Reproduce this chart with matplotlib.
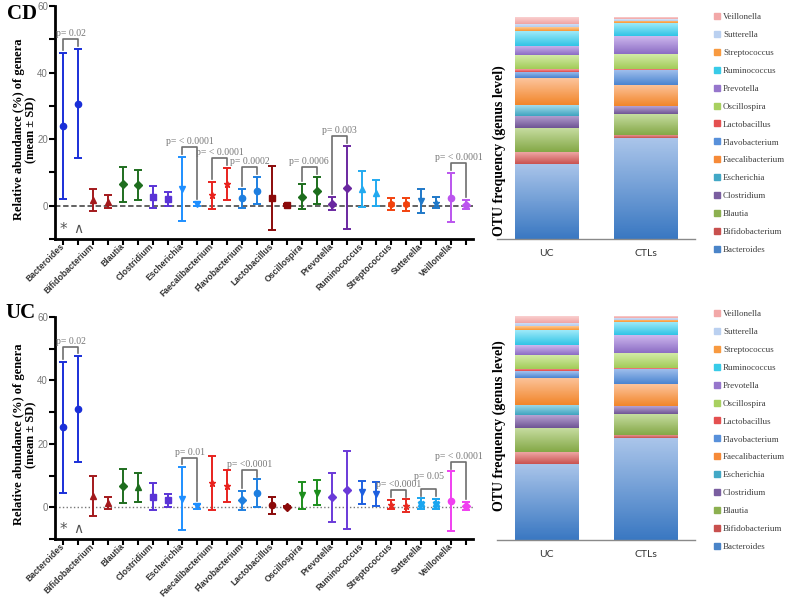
import numpy as np
import matplotlib.pyplot as plt
from matplotlib.lines import Line2D
from matplotlib.colors import LinearSegmentedColormap

# --- data ---
genera = ['Bacteroides', 'Bifidobacterium', 'Blautia', 'Clostridium', 'Escherichia',
          'Faecalibacterium', 'Flavobacterium', 'Lactobacillus', 'Oscillospira',
          'Prevotella', 'Ruminococcus', 'Streptococcus', 'Sutterella', 'Veillonella']

# CD panel (patients vs controls), mean and SD in %
cd_mean = [24.0, 1.7, 6.4, 2.6, 5.0, 3.1, 2.2, 2.4, 2.75, 0.55, 4.9, 0.5, 1.4, 2.45]
cd_sd = [22.0, 3.3, 5.2, 3.3, 9.7, 4.0, 2.9, 9.6, 3.75, 1.95, 5.4, 1.9, 3.6, 7.35]
cd_ctl_mean = [30.7, 1.2, 6.1, 2.1, 0.4, 6.5, 4.5, 0.1, 4.5, 5.45, 3.9, 0.4, 0.95, 0.35]
cd_ctl_sd = [16.5, 1.9, 4.5, 2.1, 0.6, 4.9, 4.1, 0.3, 4.0, 12.35, 3.9, 1.9, 1.65, 1.35]

# UC panel
uc_mean = [25.2, 3.6, 6.85, 3.35, 2.7, 7.8, 2.2, 0.65, 3.75, 3.1, 4.7, 0.85, 1.1, 1.95]
uc_sd = [20.6, 6.2, 5.35, 4.25, 9.9, 8.5, 3.0, 2.75, 4.15, 7.8, 3.6, 1.45, 1.7, 9.35]
uc_ctl_mean = [31.0, 1.3, 6.25, 2.15, 0.3, 6.7, 4.5, 0.2, 4.55, 5.6, 4.2, 0.55, 1.05, 0.45]
uc_ctl_sd = [16.6, 1.9, 4.55, 2.15, 0.7, 4.9, 4.3, 0.2, 3.95, 12.3, 3.8, 1.95, 1.55, 1.25]

# significant comparisons (genus index -> label)
cd_pvals = {0: 'p= 0.02', 4: 'p= < 0.0001', 5: 'p= < 0.0001', 6: 'p= 0.0002',
            8: 'p= 0.0006', 9: 'p= 0.003', 13: 'p= < 0.0001'}
uc_pvals = {0: 'p= 0.02', 4: 'p= 0.01', 6: 'p= <0.0001', 11: 'p= <0.0001',
            12: 'p= 0.05', 13: 'p= < 0.0001'}

# OTU frequency (%) at genus level, stacked bars
groups = ['UC', 'CTLs']
otu_uc = [34.0, 5.2, 10.6, 5.8, 4.6, 12.1, 3.0, 1.1, 6.4, 4.2, 6.9, 1.5, 1.6, 3.0]
otu_ctl = [45.4, 1.5, 9.3, 3.5, 0.3, 9.5, 6.8, 0.3, 6.8, 8.0, 6.0, 1.0, 0.9, 0.7]

# --- styles ---
SERIF = 'Liberation Serif'
SANS = 'Liberation Sans'

top_colors = ['#1a2fd8', '#a3191c', '#1f6e1f', '#5a34d6', '#1e8fff', '#e8221e', '#1e7fe0',
              '#8b0a0a', '#1d6e1d', '#6a28a0', '#22aaf0', '#f2420e', '#1f78c8', '#bb55ee']
bot_colors = ['#1a2fd8', '#a3191c', '#1f6e1f', '#5a34d6', '#1e8fff', '#e8221e', '#1e7fe0',
              '#8b0a0a', '#1d8e1d', '#6a3ad8', '#1d5fe0', '#e82a20', '#1aa6f0', '#f040f0']
top_markers = [('o', 'o'), ('^', '^'), ('D', 'D'), ('s', 's'), ('v', 'v'), ('*', '*'), ('o', 'o'),
               ('s', 's'), ('D', 'D'), ('D', 'D'), ('^', '^'), ('h', 'h'), ('v', '*'), ('o', 'D')]
bot_markers = [('o', 'o'), ('^', '^'), ('D', '^'), ('s', 's'), ('v', 'v'), ('*', '*'), ('D', 'o'),
               ('o', 'D'), ('v', 'v'), ('D', 'D'), ('v', 'v'), ('*', '*'), ('X', 'X'), ('o', 'D')]

stack_top = ['#aac5ea', '#eea6a4', '#c6dca0', '#b7a3d3', '#a6dcea', '#fcc49c', '#a4c2ee',
             '#f4a0a0', '#d6ecac', '#cdb8ee', '#a6ecfa', '#ffc890', '#dae6f8', '#fad0d0']
stack_bot = ['#3a78c2', '#c9524f', '#84a846', '#6f5494', '#3ea4c0', '#f2862a', '#4a84d0',
             '#e04848', '#a2cc58', '#8c6cc4', '#30c4e6', '#f89838', '#b4cbee', '#f0a4a4']
legend_colors = ['#4a84c8', '#c8504e', '#8cb050', '#7a5ea0', '#42a8c6', '#f68a38', '#5890da',
                 '#e45050', '#a8d060', '#9676cc', '#38cbe8', '#f89a40', '#bad0f0', '#f2a8a8']


def dot_panel(ax, mean1, sd1, mean2, sd2, colors, markers, pvals, zero_style, lift=None):
    lift = lift or {}
    n = len(genera)
    for i in range(n):
        for k, (m, s) in enumerate([(mean1[i], sd1[i]), (mean2[i], sd2[i])]):
            ax.errorbar(2 * i + k, m, yerr=s, fmt=markers[i][k], color=colors[i],
                        ms=4.5, capsize=3, elinewidth=1.4, capthick=1.4, zorder=3)
    if zero_style == 'dashed':
        ax.axhline(0, color='#555555', ls=(0, (3, 1.5)), lw=1.3, zorder=1)
    else:
        ax.axhline(0, color='#777777', ls=':', lw=1.0, zorder=1)

    for i, label in pvals.items():
        t1 = mean1[i] + sd1[i]
        t2 = mean2[i] + sd2[i]
        yb = max(t1, t2) + 3.0
        x1, x2 = 2 * i, 2 * i + 1
        ax.plot([x1, x1, x2, x2], [t1 + 0.9, yb, yb, t2 + 0.9], color='#6e6e6e', lw=1.2, zorder=2)
        ax.text((x1 + x2) / 2, yb + 0.3 + lift.get(i, 0), label, ha='center', va='bottom',
                fontsize=7, color='#777777', family=SERIF)

    ax.text(0, -7, '*', ha='center', va='center', fontsize=11, color='#555555')
    ax.text(1, -7, '\u2227', ha='center', va='center', fontsize=10, color='#555555')

    ax.set_xlim(-0.54, 2 * n - 1 + 0.47)
    ax.set_ylim(-10, 60)
    ax.set_yticks([0, 20, 40, 60])
    ax.set_yticks([-10, 10, 30, 50], minor=True)
    ax.set_yticklabels(['0', '20', '40', '60'], fontsize=7, color='#777777', family=SANS)
    ax.tick_params(axis='y', which='both', length=4, width=1.5, pad=1)
    ax.set_xticks(np.arange(2 * n))
    labels = []
    for g in genera:
        labels += [g, '']
    ax.set_xticklabels(labels, rotation=45, ha='right', va='center', rotation_mode='anchor',
                       fontsize=6.2, fontweight='bold', color='#333333', family=SANS)
    ax.tick_params(axis='x', length=4, width=1.5, pad=0.5)
    for sp in ['top', 'right']:
        ax.spines[sp].set_visible(False)
    for sp in ['left', 'bottom']:
        ax.spines[sp].set_linewidth(2)
    ax.set_ylabel('Relative abundance (%) of genera\n(mean \u00b1 SD)', fontsize=9,
                  fontweight='bold', family=SERIF, linespacing=1.1)
    ax.yaxis.set_label_coords(-0.042, 0.47)


def stack_panel(ax, label_y):
    width = 0.646
    for x, vals in zip([0, 1], [otu_uc, otu_ctl]):
        base = 0.0
        for j, v in enumerate(vals):
            bar = ax.bar(x, v, width, bottom=base, color='none', edgecolor='none')[0]
            cmap = LinearSegmentedColormap.from_list('g', [stack_bot[j], stack_top[j]])
            grad = np.linspace(0, 1, 64).reshape(-1, 1)
            im = ax.imshow(grad, cmap=cmap, origin='lower', aspect='auto',
                           extent=[x - width / 2, x + width / 2, base, base + v], zorder=2)
            im.set_clip_path(bar)
            base += v
    ax.set_xlim(-0.5, 1.5)
    ax.set_ylim(0, 100)
    ax.set_yticks([])
    ax.set_xticks([0, 1])
    ax.set_xticklabels(groups, fontsize=7.5, color='#333333', family='Lato')
    ax.tick_params(axis='x', length=0, pad=7)
    for sp in ['top', 'right', 'left']:
        ax.spines[sp].set_visible(False)
    ax.spines['bottom'].set_color('#8a8a8a')
    ax.spines['bottom'].set_linewidth(1.0)
    ax.set_ylabel('OTU frequency (genus level)', fontsize=10, fontweight='bold', family=SERIF)
    ax.yaxis.set_label_coords(0.045, label_y)


fig = plt.figure(figsize=(7.87, 5.98), dpi=100)

ax1 = fig.add_axes([55 / 787, 1 - 239 / 598, 418 / 787, 233 / 598])
dot_panel(ax1, cd_mean, cd_sd, cd_ctl_mean, cd_ctl_sd, top_colors, top_markers, cd_pvals, 'dashed')
ax2 = fig.add_axes([55 / 787, 1 - 539 / 598, 418 / 787, 222 / 598])
dot_panel(ax2, uc_mean, uc_sd, uc_ctl_mean, uc_ctl_sd, bot_colors, bot_markers, uc_pvals, 'dotted',
          lift={12: 2.2})

ax3 = fig.add_axes([497 / 787, 1 - 239 / 598, 198 / 787, 222 / 598])
stack_panel(ax3, 0.40)
ax4 = fig.add_axes([497 / 787, 1 - 540 / 598, 198 / 787, 224 / 598])
stack_panel(ax4, 0.51)

handles = [Line2D([], [], marker='s', ls='', color=c, ms=3.8) for c in legend_colors]
for top in [1 - 13 / 598, 1 - 310 / 598]:
    fig.legend(handles[::-1], genera[::-1], loc='upper left', bbox_to_anchor=(713 / 787, top),
               frameon=False, borderpad=0, borderaxespad=0, handlelength=0.8,
               handletextpad=0.3, labelspacing=1.06, labelcolor='#404040',
               prop={'family': SERIF, 'size': 6.5})

fig.text(7 / 787, 1 - 4 / 598, 'CD', fontsize=15, fontweight='bold', family=SERIF, va='top')
fig.text(5 / 787, 1 - 303 / 598, 'UC', fontsize=15, fontweight='bold', family=SERIF, va='top')

plt.savefig('out.png', dpi=100)
plt.close()
